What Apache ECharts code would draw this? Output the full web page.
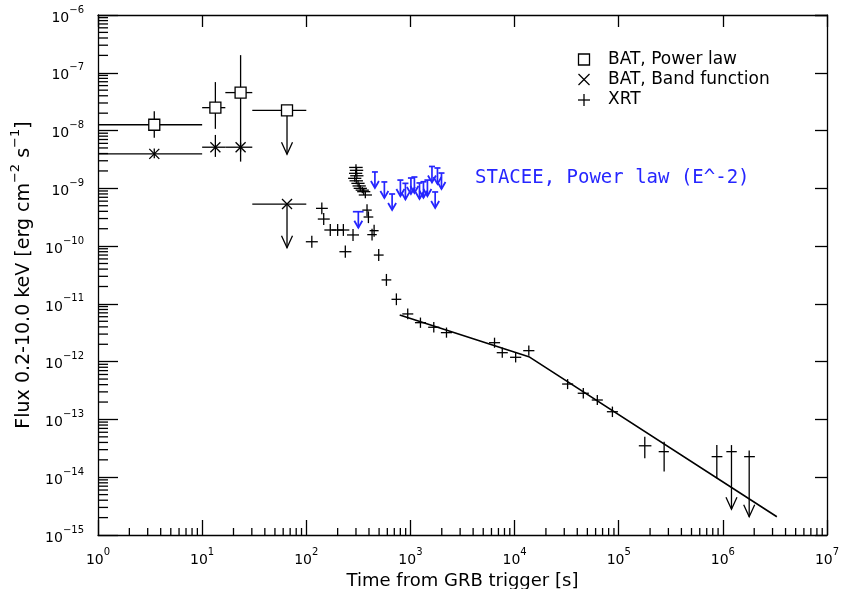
<!DOCTYPE html>
<html>
<head>
<meta charset="utf-8">
<title>GRB light curve</title>
<script src="https://cdn.jsdelivr.net/npm/echarts@6.0.0/dist/echarts.min.js"></script>
<style>
  html, body { margin: 0; padding: 0; background: #fff; }
  #chart { width: 847px; height: 589px; }
</style>
</head>
<body>
<div id="chart"></div>
<script>
// BAT, power law: [t, tLo, tHi, flux, fluxLo, fluxHi]
const batPowerLaw = [
  [3.47, 1, 10, 1.26e-8, 7.5e-9, 2.15e-8],
  [13.4, 10, 16.7, 2.49e-8, 1.07e-8, 6.9e-8],
  [23.4, 16.7, 30.3, 4.54e-8, 2.9e-9, 2.02e-7]
];
// upper limits: [t, tLo, tHi, flux, fluxTop, arrowTip]
const batPowerLawLimits = [
  [65.3, 30.3, 100, 2.23e-8, 2.23e-8, 3.9e-9]
];

// BAT, Band function
const batBand = [
  [3.47, 1, 10, 3.95e-9, 3.3e-9, 4.9e-9],
  [13.4, 10, 16.7, 5.15e-9, 3.5e-9, 8.4e-9],
  [23.4, 16.7, 30.3, 5.15e-9, 4.3e-9, 6.2e-9]
];
const batBandLimits = [
  [65.3, 30.3, 100, 5.35e-10, 5.35e-10, 9.4e-11]
];

// XRT
const xrt = [
  [113, 99, 129, 1.19e-10, 0.94e-10, 1.51e-10],
  [141, 124, 161, 4.5e-10, 3.55e-10, 5.7e-10],
  [147, 129, 168, 2.94e-10, 2.32e-10, 3.73e-10],
  [170, 149, 194, 1.9e-10, 1.5e-10, 2.41e-10],
  [200, 175, 228, 1.9e-10, 1.5e-10, 2.41e-10],
  [227, 199, 259, 1.9e-10, 1.5e-10, 2.41e-10],
  [237, 208, 271, 8.0e-11, 6.3e-11, 1.02e-10],
  [281, 246, 321, 1.56e-10, 1.23e-10, 1.98e-10],
  [292, 252, 338, 1.49e-9, 1.3e-9, 1.7e-9],
  [300, 258, 348, 2.3e-9, 2.0e-9, 2.6e-9],
  [304, 262, 352, 2.05e-9, 1.8e-9, 2.35e-9],
  [298, 257, 345, 1.82e-9, 1.6e-9, 2.05e-9],
  [306, 264, 354, 1.65e-9, 1.45e-9, 1.87e-9],
  [302, 260, 350, 1.35e-9, 1.18e-9, 1.52e-9],
  [314, 271, 363, 1.22e-9, 1.07e-9, 1.38e-9],
  [322, 278, 373, 1.1e-9, 0.97e-9, 1.25e-9],
  [330, 285, 382, 1.0e-9, 0.88e-9, 1.13e-9],
  [345, 298, 399, 9.3e-10, 8.2e-10, 1.05e-9],
  [356, 308, 412, 8.75e-10, 7.7e-10, 9.9e-10],
  [369, 319, 427, 7.67e-10, 6.75e-10, 8.7e-10],
  [383, 345, 425, 4.2e-10, 3.3e-10, 5.3e-10],
  [395, 355, 440, 3.19e-10, 2.5e-10, 4.0e-10],
  [428, 385, 475, 1.58e-10, 1.25e-10, 2.0e-10],
  [448, 405, 495, 1.85e-10, 1.45e-10, 2.35e-10],
  [496, 445, 553, 7.0e-11, 5.5e-11, 8.9e-11],
  [588, 528, 655, 2.6e-11, 2.05e-11, 3.3e-11],
  [733, 658, 817, 1.2e-11, 0.95e-11, 1.52e-11],
  [942, 835, 1065, 6.7e-12, 5.4e-12, 8.3e-12],
  [1248, 1105, 1410, 4.73e-12, 3.85e-12, 5.8e-12],
  [1676, 1480, 1900, 3.94e-12, 3.2e-12, 4.85e-12],
  [2219, 1960, 2510, 3.18e-12, 2.6e-12, 3.9e-12],
  [6420, 5680, 7260, 2.13e-12, 1.74e-12, 2.6e-12],
  [7620, 6740, 8610, 1.43e-12, 1.17e-12, 1.75e-12],
  [10240, 9050, 11600, 1.19e-12, 0.97e-12, 1.46e-12],
  [13700, 12100, 15500, 1.55e-12, 1.27e-12, 1.9e-12],
  [32300, 28600, 36500, 4.1e-13, 3.35e-13, 5.0e-13],
  [45700, 40400, 51700, 2.84e-13, 2.3e-13, 3.5e-13],
  [62300, 55100, 70400, 2.17e-13, 1.77e-13, 2.65e-13],
  [87000, 77000, 98300, 1.36e-13, 1.1e-13, 1.67e-13],
  [1.78e5, 1.56e5, 2.06e5, 3.5e-14, 2.13e-14, 5.03e-14],
  [2.73e5, 2.42e5, 3.03e5, 2.77e-14, 1.25e-14, 4.12e-14],
  [8.75e5, 7.8e5, 9.9e5, 2.27e-14, 9.6e-15, 3.6e-14]
];
const xrtLimits = [
  [1.21e6, 1.08e6, 1.36e6, 2.77e-14, 3.6e-14, 2.8e-15],
  [1.79e6, 1.6e6, 2.03e6, 2.27e-14, 2.9e-14, 2.07e-15]
];

// broken power-law fit to XRT
const xrtModel = [
  [789, 6.43e-12],
  [13700, 1.22e-12],
  [3.3e6, 2.07e-15]
];

// STACEE upper limits: [t, tLo, tHi, flux]
const stacee = [
  [316, 280, 355, 3.94e-10],
  [456, 427, 487, 1.92e-9],
  [562, 526, 600, 1.29e-9],
  [667, 624, 713, 7.98e-10],
  [801, 749, 856, 1.39e-9],
  [895, 837, 957, 1.22e-9],
  [1011, 946, 1081, 1.51e-9],
  [1092, 1021, 1167, 1.57e-9],
  [1222, 1143, 1306, 1.24e-9],
  [1334, 1248, 1426, 1.30e-9],
  [1456, 1362, 1556, 1.39e-9],
  [1610, 1506, 1721, 2.39e-9],
  [1728, 1616, 1847, 8.65e-10],
  [1818, 1701, 1943, 2.25e-9],
  [1987, 1859, 2124, 1.84e-9]
];

const legendNames = ['BAT, Power law', 'BAT, Band function', 'XRT'];
const stateeLabel = 'STACEE, Power law (E^-2)';

const xDecades = [0, 1, 2, 3, 4, 5, 6];
const yDecades = [-15, -14, -13, -12, -11, -10, -9, -8, -7];
const minorMantissas = [2, 3, 4, 5, 6, 7, 8, 9];

const black = '#000';
const blue = '#2626ff';
const font = 'DejaVu Sans';
const lw = 1.3;

function seg(x1, y1, x2, y2, color, width) {
  return { type: 'line', shape: { x1, y1, x2, y2 }, style: { stroke: color, lineWidth: width || lw } };
}

function markerShape(marker, c) {
  if (marker === 'square') {
    return [{ type: 'rect', shape: { x: c[0] - 5.5, y: c[1] - 5.5, width: 11, height: 11 },
      style: { fill: '#fff', stroke: black, lineWidth: lw } }];
  }
  if (marker === 'cross') {
    return [seg(c[0] - 5, c[1] - 5, c[0] + 5, c[1] + 5, black), seg(c[0] - 5, c[1] + 5, c[0] + 5, c[1] - 5, black)];
  }
  return [];
}

function renderErr(marker) {
  return function (params, api) {
    const t = api.value(0), f = api.value(3);
    const c = api.coord([t, f]);
    const l = api.coord([api.value(1), f]);
    const r = api.coord([api.value(2), f]);
    const lo = api.coord([t, api.value(4)]);
    const hi = api.coord([t, api.value(5)]);
    const kids = [seg(l[0], c[1], r[0], c[1], black), seg(c[0], lo[1], c[0], hi[1], black)];
    return { type: 'group', children: kids.concat(markerShape(marker, c)) };
  };
}

function renderLimit(marker) {
  return function (params, api) {
    const t = api.value(0), f = api.value(3);
    const c = api.coord([t, f]);
    const l = api.coord([api.value(1), f]);
    const r = api.coord([api.value(2), f]);
    const top = api.coord([t, api.value(4)]);
    const tip = api.coord([t, api.value(5)]);
    const kids = [
      seg(l[0], c[1], r[0], c[1], black),
      seg(c[0], top[1], c[0], tip[1], black),
      { type: 'polyline', shape: { points: [[tip[0] - 5.5, tip[1] - 12], [tip[0], tip[1]], [tip[0] + 5.5, tip[1] - 12]] },
        style: { fill: 'none', stroke: black, lineWidth: lw } }
    ];
    return { type: 'group', children: kids.concat(markerShape(marker, c)) };
  };
}

function renderStacee(params, api) {
  const t = api.value(0), f = api.value(3);
  const c = api.coord([t, f]);
  const l = api.coord([api.value(1), f]);
  const r = api.coord([api.value(2), f]);
  const tipY = c[1] + 16;
  return {
    type: 'group',
    children: [
      seg(l[0], c[1], r[0], c[1], blue, 1.7),
      seg(c[0], c[1], c[0], tipY, blue, 1.7),
      { type: 'polyline', shape: { points: [[c[0] - 4, tipY - 7], [c[0], tipY], [c[0] + 4, tipY - 7]] },
        style: { fill: 'none', stroke: blue, lineWidth: 1.8 } }
    ]
  };
}

// minor ticks at 2..9 x 10^n, drawn inside the frame
const xMinor = [];
xDecades.forEach(n => minorMantissas.forEach(k => xMinor.push([k * Math.pow(10, n), 1e-15])));
const yMinor = [];
yDecades.forEach(n => minorMantissas.forEach(k => yMinor.push([1, k * Math.pow(10, n)])));

function powLabel(v) {
  const e = Math.round(Math.log10(v));
  return '{b|10}{s|' + (e < 0 ? '\u2212' + (-e) : e) + '}';
}
const labelRich = {
  b: { fontFamily: font, fontSize: 14, lineHeight: 20, verticalAlign: 'bottom', color: black },
  s: { fontFamily: font, fontSize: 10, lineHeight: 10, verticalAlign: 'top', color: black }
};

const axisBase = {
  type: 'log',
  logBase: 10,
  interval: 1,
  axisLine: { show: true, onZero: false, lineStyle: { color: black, width: lw } },
  splitLine: { show: false },
  minorTick: { show: false }
};

const chart = echarts.init(document.getElementById('chart'), null, { renderer: 'canvas' });
chart.setOption({
  animation: false,
  backgroundColor: '#fff',
  grid: { left: 98, right: 20, top: 15, bottom: 54, containLabel: false, outerBoundsMode: 'none' },
  xAxis: [
    Object.assign({}, axisBase, {
      min: 1, max: 1e7, position: 'bottom',
      axisTick: { inside: true, length: 15, lineStyle: { color: black, width: lw } },
      axisLabel: { margin: 12, formatter: powLabel, rich: labelRich },
      name: 'Time from GRB trigger [s]',
      nameLocation: 'middle',
      nameGap: 33,
      nameTextStyle: { fontFamily: font, fontSize: 18, color: black }
    }),
    Object.assign({}, axisBase, {
      min: 1, max: 1e7, position: 'top',
      axisTick: { inside: true, length: 12, lineStyle: { color: black, width: lw } },
      axisLabel: { show: false }
    })
  ],
  yAxis: [
    Object.assign({}, axisBase, {
      min: 1e-15, max: 1e-6, position: 'left',
      axisTick: { inside: true, length: 20, lineStyle: { color: black, width: lw } },
      axisLabel: { margin: 14, formatter: powLabel, rich: labelRich },
      name: '{m|Flux 0.2-10.0 keV [erg cm}{s|\u22122}{m| s}{s|\u22121}{m|]}',
      nameLocation: 'middle',
      nameRotate: 90,
      nameGap: 64,
      nameTextStyle: {
        fontFamily: font, fontSize: 19, color: black,
        rich: {
          m: { fontFamily: font, fontSize: 19, lineHeight: 25, verticalAlign: 'bottom', color: black },
          s: { fontFamily: font, fontSize: 13, lineHeight: 13, verticalAlign: 'top', color: black }
        }
      }
    }),
    Object.assign({}, axisBase, {
      min: 1e-15, max: 1e-6, position: 'right',
      axisTick: { inside: true, length: 12, lineStyle: { color: black, width: lw } },
      axisLabel: { show: false }
    })
  ],
  series: [
    {
      type: 'custom', name: 'xMinor', silent: true, data: xMinor, encode: { x: 0, y: 1 },
      renderItem: (params, api) => {
        const p = api.coord([api.value(0), api.value(1)]);
        return seg(p[0], p[1], p[0], p[1] - 7, black);
      }
    },
    {
      type: 'custom', name: 'yMinor', silent: true, data: yMinor, encode: { x: 0, y: 1 },
      renderItem: (params, api) => {
        const p = api.coord([api.value(0), api.value(1)]);
        return seg(p[0], p[1], p[0] + 10, p[1], black);
      }
    },
    {
      type: 'line', name: 'XRT model', data: xrtModel, symbol: 'none', silent: true,
      lineStyle: { color: black, width: 1.6 }
    },
    { type: 'custom', name: legendNames[2], data: xrt, encode: { x: 0, y: 3 }, renderItem: renderErr('none') },
    { type: 'custom', name: 'XRT limits', data: xrtLimits, encode: { x: 0, y: 3 }, renderItem: renderLimit('none') },
    { type: 'custom', name: legendNames[1], data: batBand, encode: { x: 0, y: 3 }, renderItem: renderErr('cross') },
    { type: 'custom', name: 'Band limits', data: batBandLimits, encode: { x: 0, y: 3 }, renderItem: renderLimit('cross') },
    { type: 'custom', name: legendNames[0], data: batPowerLaw, encode: { x: 0, y: 3 }, renderItem: renderErr('square') },
    { type: 'custom', name: 'PL limits', data: batPowerLawLimits, encode: { x: 0, y: 3 }, renderItem: renderLimit('square') },
    { type: 'custom', name: 'STACEE', data: stacee, encode: { x: 0, y: 3 }, renderItem: renderStacee }
  ],
  graphic: [
    { type: 'rect', shape: { x: 578.5, y: 54, width: 11, height: 11 }, style: { fill: 'none', stroke: black, lineWidth: lw } },
    { type: 'line', shape: { x1: 578.5, y1: 74, x2: 589.5, y2: 85 }, style: { stroke: black, lineWidth: lw } },
    { type: 'line', shape: { x1: 578.5, y1: 85, x2: 589.5, y2: 74 }, style: { stroke: black, lineWidth: lw } },
    { type: 'line', shape: { x1: 578, y1: 100, x2: 590, y2: 100 }, style: { stroke: black, lineWidth: lw } },
    { type: 'line', shape: { x1: 584, y1: 94, x2: 584, y2: 106 }, style: { stroke: black, lineWidth: lw } },
    { type: 'text', x: 608, y: 59.5, style: { text: legendNames[0], font: '17px "DejaVu Sans"', fill: black, verticalAlign: 'middle' } },
    { type: 'text', x: 608, y: 79.5, style: { text: legendNames[1], font: '17px "DejaVu Sans"', fill: black, verticalAlign: 'middle' } },
    { type: 'text', x: 608, y: 100, style: { text: legendNames[2], font: '17px "DejaVu Sans"', fill: black, verticalAlign: 'middle' } },
    { type: 'text', x: 475, y: 178.5, style: { text: stateeLabel, font: '19px "DejaVu Sans Mono"', fill: blue, verticalAlign: 'middle' } }
  ]
});
</script>
</body>
</html>
